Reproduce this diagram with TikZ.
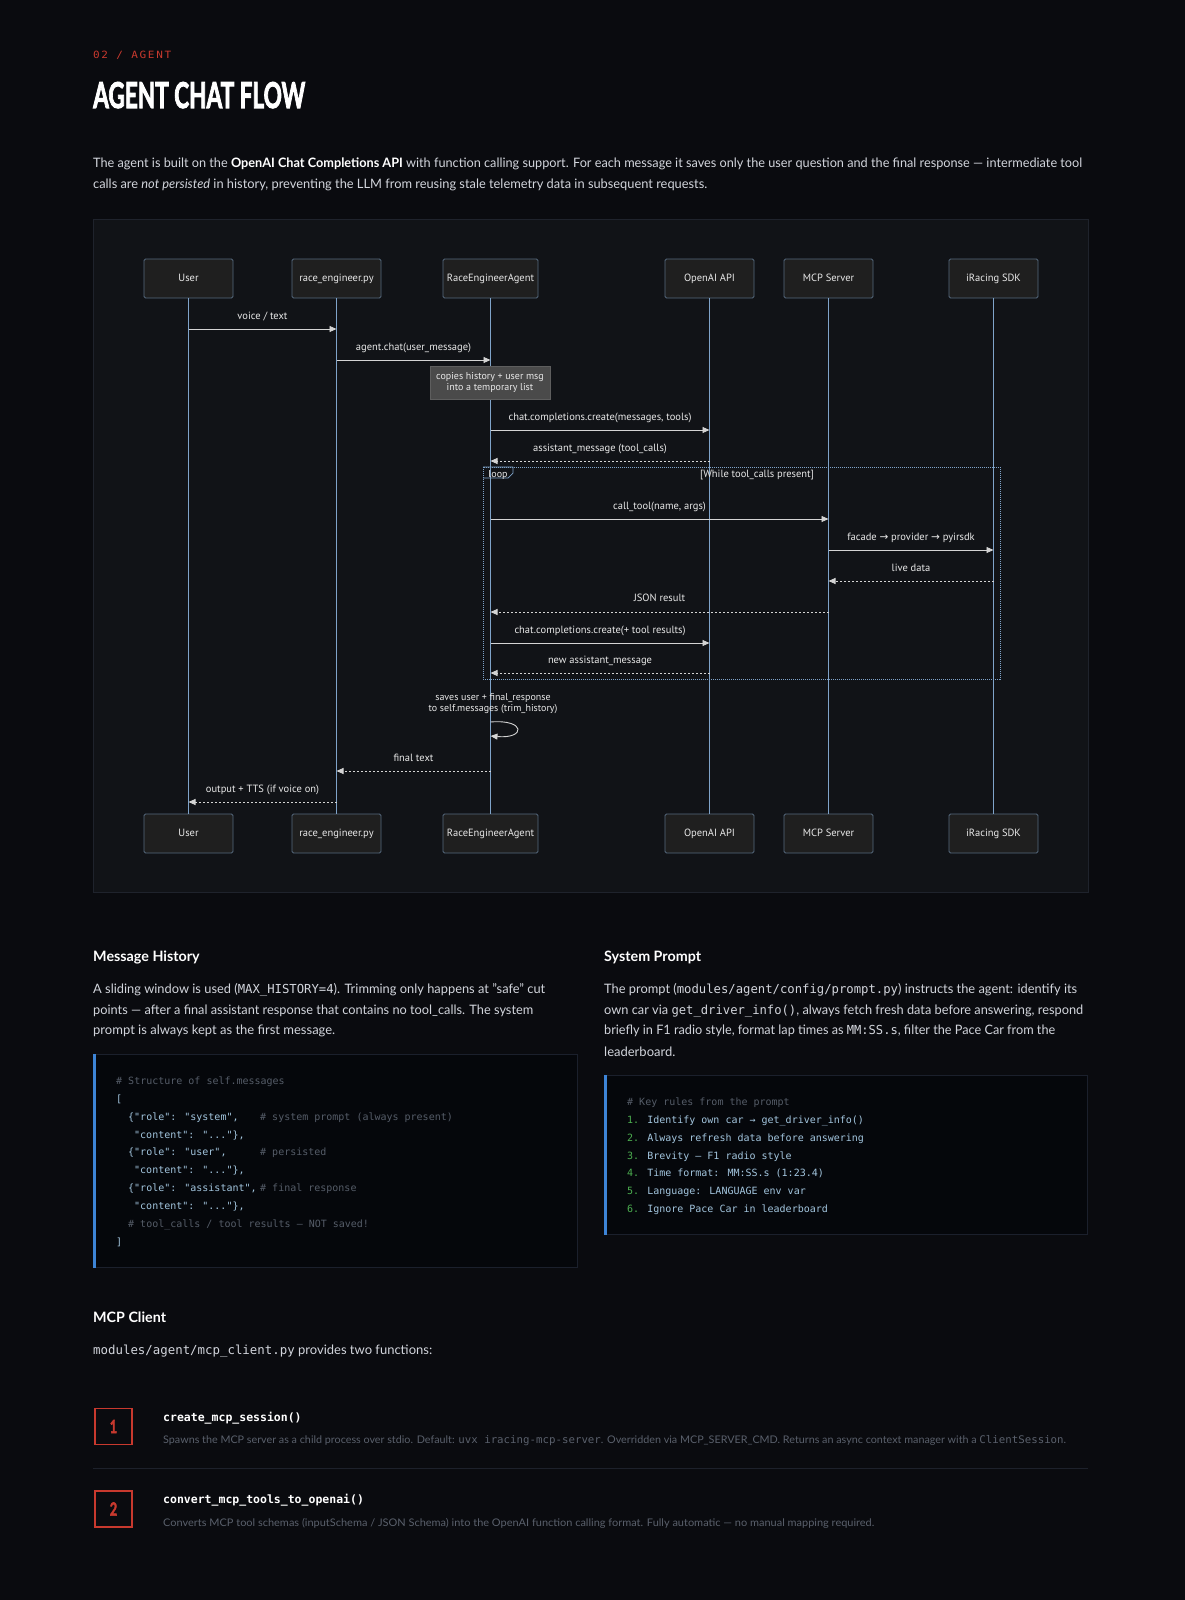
\documentclass[tikz,border=0pt]{standalone}
\usepackage{fontspec}
\usetikzlibrary{arrows.meta}
\setmainfont{Lato}
\setmonofont{DejaVu Sans Mono}
\newfontfamily\diafont{PT Sans}
\newfontfamily\symfont{DejaVu Sans}
\newfontfamily\codefont{DejaVu Sans Mono}
\newfontfamily\kickerfont[LetterSpace=15]{DejaVu Sans Mono}
\newfontfamily\titlefont[BoldFeatures={FakeBold=3}]{Lato}

\definecolor{pagebg}{HTML}{0A0B0F}
\definecolor{panelbg}{HTML}{111317}
\definecolor{panelline}{HTML}{1F232C}
\definecolor{actorfill}{HTML}{1F1F1F}
\definecolor{actorline}{HTML}{55697E}
\definecolor{lifecol}{HTML}{7FA3C9}
\definecolor{msgcol}{HTML}{D4D4D4}
\definecolor{diatext}{HTML}{E8E8E8}
\definecolor{notefill}{HTML}{4A4A4A}
\definecolor{noteline}{HTML}{5E5E5E}
\definecolor{loopcol}{HTML}{7FA3C9}
\definecolor{accent}{HTML}{C8392E}
\definecolor{bodytext}{HTML}{D2D5DC}
\definecolor{codebg}{HTML}{05070B}
\definecolor{codeline}{HTML}{1B202C}
\definecolor{codebar}{HTML}{3D84D6}
\definecolor{codetext}{HTML}{A3C6DF}
\definecolor{codecomment}{HTML}{555C68}
\definecolor{codenum}{HTML}{4CAF50}
\definecolor{desctext}{HTML}{5A606C}
\definecolor{sepline}{HTML}{1D212B}

\newcommand{\fitw}[2]{\resizebox{#1pt}{\height}{#2}}
\newcommand{\ic}[1]{{\fontsize{12.4}{12.4}\ttfamily #1}}
\newcommand{\rarr}{{\symfont →}}

\begin{document}
\begin{tikzpicture}[x=1pt,y=-1pt,
  txt/.style={anchor=west, inner sep=0pt, text height=0.72em, text depth=0.22em, yshift=-2pt},
  body/.style={txt, font=\fontsize{13}{16}\selectfont, text=bodytext},
  head/.style={txt, font=\fontsize{14.3}{16}\selectfont\bfseries, text=white},
  actor/.style={draw=actorline, fill=actorfill, line width=0.8pt, rounded corners=1.5pt,
    minimum height=39pt, minimum width=89pt, inner sep=0pt, text depth=0.05em,
    font=\diafont\fontsize{10.5}{12}\selectfont, text=diatext},
  lifeline/.style={draw=lifecol, line width=1pt},
  msg/.style={draw=msgcol, line width=0.9pt, -{Triangle[length=7pt,width=6pt]}},
  ret/.style={msg, dash pattern=on 2pt off 2pt},
  lbl/.style={font=\diafont\fontsize{10.5}{12}\selectfont, text=diatext, inner sep=0pt,
    text height=0.72em, text depth=0.22em},
  code/.style={txt, font=\codefont\fontsize{10}{12}\selectfont, text=codetext},
  comment/.style={code, text=codecomment},
  numbox/.style={draw=accent, line width=1.5pt, minimum width=37pt, minimum height=36pt,
    inner sep=0pt, text=accent, font=\titlefont\bfseries\fontsize{18}{18}\selectfont},
  fntitle/.style={txt, font=\codefont\bfseries\fontsize{11.5}{12}\selectfont, text=white},
  desc/.style={txt, font=\fontsize{10.5}{12}\selectfont, text=desctext},
]
\fill[pagebg] (0,0) rectangle (1185,1600);
\useasboundingbox (0,0) rectangle (1185,1600);

% ---------- header ----------
\node[txt, font=\kickerfont\fontsize{10}{10}\selectfont, text=accent] (kicker) at (93,54) {\fitw{78}{02 / AGENT}};
\node[anchor=base west, inner sep=0pt, text=white] (title) at (93,108)
  {\resizebox{212pt}{26pt}{\titlefont\bfseries AGENT CHAT FLOW}};
\node[body] (p1a) at (93,163) {\fitw{989}{The agent is built on the {\color{white}\bfseries OpenAI Chat Completions API} with function calling support. For each message it saves only the user question and the final response — intermediate tool}};
\node[body] (p1b) at (93,184) {\fitw{614}{calls are \textit{not persisted} in history, preventing the LLM from reusing stale telemetry data in subsequent requests.}};

% ---------- sequence diagram panel ----------
\draw[draw=panelline, fill=panelbg, line width=1pt] (93,219) rectangle (1088,892);

\foreach \r/\y in {T/278.5, B/833.5}{
  \node[actor] (u\r) at (188.5,\y) {User};
  \node[actor] (r\r) at (336.5,\y) {race\_engineer.py};
  \node[actor, minimum width=95pt] (a\r) at (490.5,\y) {RaceEngineerAgent};
  \node[actor] (o\r) at (709.5,\y) {OpenAI API};
  \node[actor] (m\r) at (828.5,\y) {MCP Server};
  \node[actor] (i\r) at (993.5,\y) {iRacing SDK};
}
\foreach \n in {u,r,a,o,m,i}{
  \draw[lifeline] (\n T.south) -- (\n B.north);
}

% loop frame
\draw[draw=loopcol, line width=0.8pt, dash pattern=on 1pt off 1pt] (483,467) rectangle (1000,679);
\draw[draw=loopcol, line width=0.7pt] (483,467) -- (513,467) -- (513,473) -- (508,478) -- (483,478);
\node[lbl, font=\diafont\fontsize{10}{12}\selectfont] (looplbl) at (498,474.5) {loop};
\node[lbl] (loopcond) at (757,475) {[While tool\_calls present]};

% messages
\draw[msg] (uT |- 0,329) -- node[lbl, yshift=12pt] {voice / text} (rT |- 0,329);
\draw[msg] (rT |- 0,360) -- node[lbl, yshift=12pt] {agent.chat(user\_message)} (aT |- 0,360);
\node[fill=notefill, draw=noteline, line width=0.6pt, minimum width=120pt, minimum height=33pt,
  inner sep=0pt, align=center, font=\diafont\fontsize{10}{11.2}\selectfont, text=diatext]
  (note) at (490,382.5) {copies history + user msg\\into a temporary list};
\draw[msg] (aT |- 0,430) -- node[lbl, yshift=12pt] {chat.completions.create(messages, tools)} (oT |- 0,430);
\draw[ret] (oT |- 0,461) -- node[lbl, yshift=12pt] {assistant\_message (tool\_calls)} (aT |- 0,461);
\draw[msg] (aT |- 0,519) -- node[lbl, yshift=12pt] {call\_tool(name, args)} (mT |- 0,519);
\draw[msg] (mT |- 0,550) -- node[lbl, yshift=12pt] {facade \rarr{} provider \rarr{} pyirsdk} (iT |- 0,550);
\draw[ret] (iT |- 0,581) -- node[lbl, yshift=12pt] {live data} (mT |- 0,581);
\draw[ret] (mT |- 0,612) -- node[lbl, yshift=13pt] {JSON result} (aT |- 0,612);
\draw[msg] (aT |- 0,643) -- node[lbl, yshift=12pt] {chat.completions.create(+ tool results)} (oT |- 0,643);
\draw[ret] (oT |- 0,673) -- node[lbl, yshift=12pt] {new assistant\_message} (aT |- 0,673);

\node[lbl, align=center, text height=, text depth=, font=\diafont\fontsize{10}{11}\selectfont] (saves) at (493,704)
  {saves user + final\_response\\to self.messages (trim\_history)};
\draw[msg] (aT |- 0,722) .. controls (526,719) and (526,739) .. (aT |- 0,736);

\draw[ret] (aT |- 0,771) -- node[lbl, yshift=12pt] {final text} (rT |- 0,771);
\draw[ret] (rT |- 0,802) -- node[lbl, yshift=12pt] {output + TTS (if voice on)} (uT |- 0,802);

% ---------- Message History ----------
\node[head] (mhh) at (93,957) {Message History};
\node[body] (mh1) at (93,989) {\fitw{452}{A sliding window is used (\ic{MAX\_HISTORY=4}). Trimming only happens at "safe" cut}};
\node[body] (mh2) at (93,1010) {\fitw{440}{points — after a final assistant response that contains no tool\_calls. The system}};
\node[body] (mh3) at (93,1030) {prompt is always kept as the first message.};

\draw[draw=codeline, fill=codebg, line width=1pt] (93,1054) rectangle (577,1267);
\fill[codebar] (92.5,1053.5) rectangle (96,1267.5);
\node[comment] (c1) at (116,1080) {\# Structure of self.messages};
\node[code] (c2) at (116,1097.9) {[};
\node[code] (c3) at (128,1115.7) {\{"role": "system",};
\node[comment] (c3b) at (260,1115.7) {\# system prompt (always present)};
\node[code] (c4) at (134,1133.6) {"content": "..."\},};
\node[code] (c5) at (128,1151.4) {\{"role": "user",};
\node[comment] (c5b) at (260,1151.4) {\# persisted};
\node[code] (c6) at (134,1169.3) {"content": "..."\},};
\node[code] (c7) at (128,1187.1) {\{"role": "assistant",};
\node[comment] (c7b) at (260,1187.1) {\# final response};
\node[code] (c8) at (134,1205) {"content": "..."\},};
\node[comment] (c9) at (128,1222.8) {\# tool\_calls / tool results — NOT saved!};
\node[code] (c10) at (116,1240.7) {]};

% ---------- System Prompt ----------
\node[head] (sph) at (604,957) {System Prompt};
\node[body] (sp1) at (604,989) {\fitw{473}{The prompt (\ic{modules/agent/config/prompt.py}) instructs the agent: identify its}};
\node[body] (sp2) at (604,1010) {\fitw{479}{own car via \ic{get\_driver\_info()}, always fetch fresh data before answering, respond}};
\node[body] (sp3) at (604,1030) {\fitw{451}{briefly in F1 radio style, format lap times as \ic{MM:SS.s}, filter the Pace Car from the}};
\node[body] (sp4) at (604,1052) {leaderboard.};

\draw[draw=codeline, fill=codebg, line width=1pt] (604,1075) rectangle (1087,1234);
\fill[codebar] (603.5,1074.5) rectangle (607,1234.5);
\node[comment] (k0) at (627,1101) {\# Key rules from the prompt};
\node[code] (k1) at (627,1118.9) {{\color{codenum}1.} Identify own car → get\_driver\_info()};
\node[code] (k2) at (627,1136.7) {{\color{codenum}2.} Always refresh data before answering};
\node[code] (k3) at (627,1154.6) {{\color{codenum}3.} Brevity — F1 radio style};
\node[code] (k4) at (627,1172.4) {{\color{codenum}4.} Time format: MM:SS.s (1:23.4)};
\node[code] (k5) at (627,1190.3) {{\color{codenum}5.} Language: LANGUAGE env var};
\node[code] (k6) at (627,1208.1) {{\color{codenum}6.} Ignore Pace Car in leaderboard};

% ---------- MCP Client ----------
\node[head] (mcph) at (93,1318) {MCP Client};
\node[body] (mcpl) at (93,1350) {\ic{modules/agent/mcp\_client.py} provides two functions:};

\node[numbox] (n1) at (113.5,1426.5) {\scalebox{0.7}[1]{1}};
\node[fntitle] (f1) at (163,1417) {create\_mcp\_session()};
\node[desc] (d1) at (163,1439) {\fitw{903}{Spawns the MCP server as a child process over stdio. Default: {\ttfamily uvx iracing-mcp-server}. Overridden via MCP\_SERVER\_CMD. Returns an async context manager with a {\ttfamily ClientSession}.}};
\draw[draw=sepline, line width=1pt] (93,1468) -- (1088,1468);
\node[numbox] (n2) at (113.5,1509) {\scalebox{0.7}[1]{2}};
\node[fntitle] (f2) at (163,1499) {convert\_mcp\_tools\_to\_openai()};
\node[desc] (d2) at (163,1522) {\fitw{711}{Converts MCP tool schemas (inputSchema / JSON Schema) into the OpenAI function calling format. Fully automatic — no manual mapping required.}};
\end{tikzpicture}
\end{document}
